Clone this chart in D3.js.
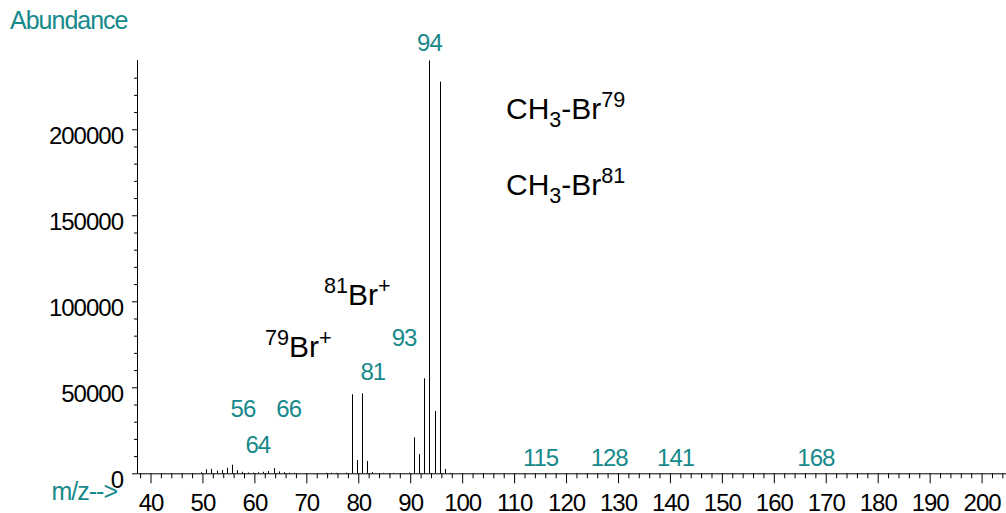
<!DOCTYPE html>
<html>
<head>
<meta charset="utf-8">
<script src="https://cdn.jsdelivr.net/npm/d3@7"></script>
<style>
  html, body { margin: 0; padding: 0; background: #fff; }
  svg { display: block; }
  text { font-family: "Liberation Sans", Arial, sans-serif; }
</style>
</head>
<body>
<svg id="chart" width="1006" height="513"></svg>
<script>
// ---- data ----
const peakMz = [49.9, 50.9, 51.9, 52.9, 53.9, 54.9, 55.9, 56.9, 57.9, 58.9, 59.9, 60.9, 61.9, 62.9, 63.9, 64.9, 65.9, 66.9, 67.9,
  73.9, 74.9, 75.9, 77.9, 78.9, 79.9, 80.9, 81.9, 82.9, 84.9, 86.9, 89.9,
  90.9, 91.9, 92.9, 93.9, 94.9, 95.9, 96.9, 97.9];
const peakAbundance = [600, 2300, 2600, 1500, 1900, 3200, 5000, 1800, 900, 500, 400, 600, 900, 1300, 3000, 1100, 700, 400, 300,
  300, 400, 300, 400, 45900, 7700, 46500, 7150, 700, 300, 300, 400,
  20900, 11200, 55200, 240000, 36200, 227700, 2500, 300];

const xTickMajor = [40, 50, 60, 70, 80, 90, 100, 110, 120, 130, 140, 150, 160, 170, 180, 190, 200];
const yTickMajor = [0, 50000, 100000, 150000, 200000];

// teal m/z labels: text, anchor m/z, anchor abundance
const mzLabelText = ["94", "93", "81", "56", "66", "64", "115", "128", "141", "168"];
const mzLabelX    = [93.7, 88.8, 82.8, 57.8, 66.6, 60.65, 115.1, 128.3, 141.1, 168.1];
const mzLabelY    = [245700, 74000, 54250, 32900, 32900, 12000, 4250, 4250, 4250, 4250];

// ---- layout ----
const svg = d3.select("#chart");
const x = d3.scaleLinear().domain([37.4, 204.7]).range([137, 1006]);
const y = d3.scaleLinear().domain([0, 240500]).range([473.3, 59.6]);
const teal = "#16898a";

// peaks
svg.append("g").selectAll("line").data(peakMz).join("line")
  .attr("x1", (d) => Math.round(x(d) - 1) + 0.5)
  .attr("x2", (d) => Math.round(x(d) - 1) + 0.5)
  .attr("y1", y(0))
  .attr("y2", (d, i) => y(peakAbundance[i]))
  .attr("stroke", "#000").attr("stroke-width", 1);

// x axis minor
const xMinor = d3.range(38, 205, 2).filter(v => v % 10 !== 0);
svg.append("g").attr("transform", `translate(0,${y(0)})`)
  .call(d3.axisBottom(x).tickValues(xMinor).tickSize(5).tickFormat(""))
  .call(g => g.select(".domain").remove());
const gx = svg.append("g").attr("transform", `translate(0,${y(0)})`)
  .call(d3.axisBottom(x).tickValues(xTickMajor).tickSize(10).tickSizeOuter(0).tickPadding(10));
gx.selectAll("text").attr("font-size", 24).attr("letter-spacing", -1).attr("fill", "#000")
  .attr("font-family", "Liberation Sans, Arial, sans-serif").attr("dy", "0.72em");
gx.selectAll("line, path").attr("stroke", "#000");

// y axis minor
const yMinor = d3.range(10000, 240000, 10000).filter(v => v % 50000 !== 0);
svg.append("g").attr("transform", `translate(137,0)`)
  .call(d3.axisLeft(y).tickValues(yMinor).tickSize(3).tickFormat(""))
  .call(g => g.select(".domain").remove());
const gy = svg.append("g").attr("transform", `translate(137,0)`)
  .call(d3.axisLeft(y).tickValues(yTickMajor).tickSize(5).tickSizeOuter(0).tickPadding(9).tickFormat(d3.format("d")));
gy.selectAll("text").attr("font-size", 24).attr("letter-spacing", -1).attr("fill", "#000")
  .attr("font-family", "Liberation Sans, Arial, sans-serif").attr("dy", "0.6em");
gy.selectAll("line, path").attr("stroke", "#000");

// axis titles
svg.append("text").attr("x", 10).attr("y", 29).attr("font-size", 25).attr("letter-spacing", -1)
  .attr("fill", teal).text("Abundance");
svg.append("text").attr("x", 117).attr("y", 500).attr("text-anchor", "end").attr("font-size", 25).attr("letter-spacing", -1)
  .attr("fill", teal).text("m/z-->");

// m/z labels
svg.append("g").selectAll("text").data(mzLabelText).join("text")
  .attr("x", (d, i) => x(mzLabelX[i]))
  .attr("y", (d, i) => y(mzLabelY[i]))
  .attr("text-anchor", "middle").attr("font-size", 24).attr("letter-spacing", -1)
  .attr("fill", teal).text(d => d);

// annotations (black)
function formula(xp, yp, parts, size) {
  const t = svg.append("text").attr("x", xp).attr("y", yp).attr("font-size", size).attr("fill", "#000");
  let shift = 0;
  parts.forEach(p => {
    const target = p.sub ? size * 0.26 : p.sup ? -size * 0.4 : 0;
    t.append("tspan").attr("dy", target - shift)
      .attr("font-size", (p.sub || p.sup) ? size * 0.72 : size).text(p.t);
    shift = target;
  });
}
formula(506, 119, [{t: "CH"}, {t: "3", sub: true}, {t: "-Br"}, {t: "79", sup: true}], 30);
formula(506, 195, [{t: "CH"}, {t: "3", sub: true}, {t: "-Br"}, {t: "81", sup: true}], 30);
formula(324, 305, [{t: "81", sup: true}, {t: "Br"}, {t: "+", sup: true}], 30);
formula(265, 357, [{t: "79", sup: true}, {t: "Br"}, {t: "+", sup: true}], 30);
</script>
</body>
</html>
